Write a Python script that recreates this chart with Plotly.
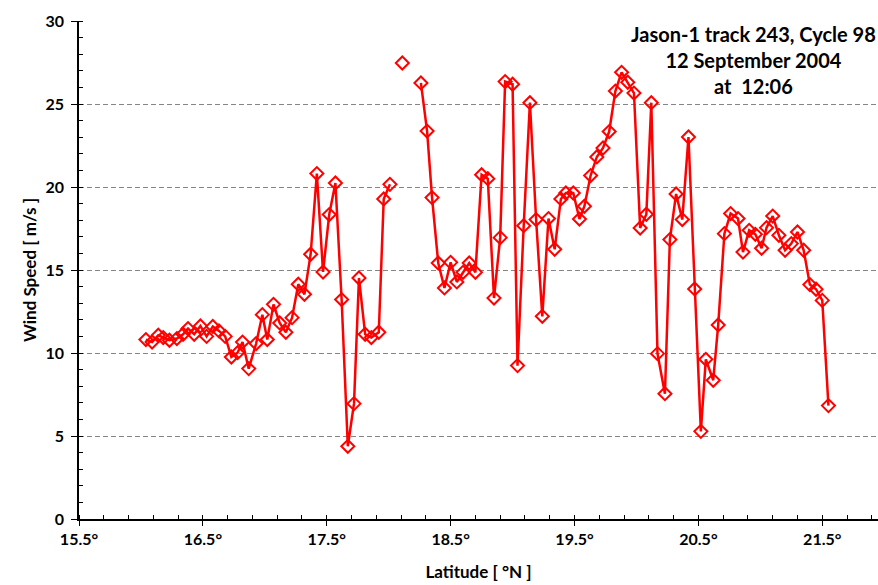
import plotly.graph_objects as go

# Jason-1 altimeter wind speed along track 243 (cycle 98); None marks missing samples
latitude = [
    16.04, 16.09, 16.14, 16.18, 16.23, 16.29, 16.34, 16.38, 16.43, 16.48,
    16.53, 16.58, 16.63, 16.68, 16.73, 16.78, 16.82, 16.87, 16.93, 16.98,
    17.02, 17.07, 17.12, 17.17, 17.22, 17.27, 17.32, 17.37, 17.42, 17.47,
    17.52, 17.57, 17.62, 17.67, 17.72, 17.76, 17.81, 17.86, 17.92, 17.96,
    18.01, 18.06, 18.11, 18.18, 18.26, 18.31, 18.35, 18.40, 18.45, 18.50,
    18.55, 18.60, 18.65, 18.70, 18.75, 18.80, 18.85, 18.90, 18.94, 19.00,
    19.04, 19.09, 19.14, 19.19, 19.24, 19.29, 19.34, 19.39, 19.43, 19.49,
    19.54, 19.58, 19.63, 19.68, 19.73, 19.78, 19.83, 19.88, 19.93, 19.98,
    20.03, 20.08, 20.12, 20.17, 20.23, 20.27, 20.32, 20.37, 20.42, 20.47,
    20.52, 20.56, 20.62, 20.66, 20.71, 20.76, 20.82, 20.86, 20.91, 20.96,
    21.01, 21.05, 21.10, 21.15, 21.20, 21.25, 21.30, 21.35, 21.40, 21.45,
    21.50, 21.55,
]
wind_speed = [
    10.81, 10.66, 11.07, 10.93, 10.77, 10.87, 11.13, 11.47, 11.13, 11.63,
    11.00, 11.60, 11.33, 11.00, 9.76, 10.02, 10.66, 9.06, 10.57, 12.31,
    10.81, 12.93, 11.81, 11.25, 12.13, 14.14, 13.54, 15.95, 20.81, 14.88,
    18.34, 20.24, 13.22, 4.38, 6.95, 14.52, 11.13, 10.93, 11.25, 19.28,
    20.16, None, 27.47, None, 26.27, 23.37, 19.36, 15.42, 13.92, 15.46,
    14.28, 14.86, 15.42, 14.86, 20.74, 20.50, 13.31, 16.95, 26.35, 26.19,
    9.24, 17.67, 25.08, 18.04, 12.21, 18.10, 16.25, 19.28, 19.64, 19.64,
    18.07, 18.84, 20.69, 21.81, 22.35, 23.34, 25.78, 26.91, 26.31, 25.66,
    17.53, 18.36, 25.08, 9.96, 7.55, 16.83, 19.58, 18.04, 23.01, 13.86,
    5.28, 9.62, 8.36, 11.69, 17.19, 18.40, 18.10, 16.08, 17.39, 17.15,
    16.31, 17.55, 18.25, 17.09, 16.19, 16.59, 17.29, 16.19, 14.12, 13.84,
    13.17, 6.83,
]

x_ticks = [15.5, 16.5, 17.5, 18.5, 19.5, 20.5, 21.5]
x_tick_labels = ["15.5°", "16.5°", "17.5°", "18.5°", "19.5°", "20.5°", "21.5°"]
y_ticks = [0, 5, 10, 15, 20, 25, 30]

FONT = "Lato, 'Open Sans', sans-serif"

fig = go.Figure()
fig.add_trace(go.Scatter(
    x=latitude, y=wind_speed,
    mode="lines+markers",
    connectgaps=False,
    line=dict(color="#ff0000", width=2.5),
    marker=dict(symbol="diamond-open", size=10, color="#ff0000",
                line=dict(color="#ff0000", width=2)),
    showlegend=False,
))

fig.add_annotation(
    text="Jason-1 track 243, Cycle 98<br>12 September 2004<br>at  12:06",
    xref="paper", yref="paper",
    x=(753 - 79) / (878 - 79), y=1 - (60 - 21) / (585 - 21 - 66),
    xanchor="center", yanchor="middle",
    showarrow=False, align="center",
    font=dict(family=FONT, size=20, color="black", weight="bold"),
)

fig.update_layout(
    width=878, height=585,
    margin=dict(l=79, r=0, t=21, b=66),
    plot_bgcolor="white", paper_bgcolor="white",
    font=dict(family=FONT, color="black"),
    xaxis=dict(
        range=[15.5, 21.95],
        tickvals=x_ticks, ticktext=x_tick_labels,
        tickfont=dict(size=16, weight="bold"),
        ticks="outside", ticklen=5, tickcolor="black", tickwidth=1.2,
        minor=dict(dtick=0.2, tick0=15.5, ticks="inside", ticklen=4,
                   tickcolor="black", showgrid=False),
        showgrid=False, zeroline=False,
        showline=True, linecolor="black", linewidth=1.5,
        title=dict(text="Latitude [ °N ]", standoff=19,
                   font=dict(size=17, weight="bold")),
    ),
    yaxis=dict(
        range=[0, 30],
        tickvals=y_ticks,
        tickfont=dict(size=16, weight="bold"),
        ticks="outside", ticklen=6, tickcolor="black", tickwidth=1.2,
        ticklabelstandoff=4,
        minor=dict(dtick=1, ticks="inside", ticklen=4, tickcolor="black",
                   showgrid=False),
        showgrid=True, gridcolor="#858585", gridwidth=1.4, griddash="5px,3px",
        zeroline=False,
        showline=True, linecolor="black", linewidth=1.5,
        title=dict(text="Wind Speed [ m/s ]", standoff=5,
                   font=dict(size=17, weight="bold")),
    ),
)

fig.write_html("out.html")
